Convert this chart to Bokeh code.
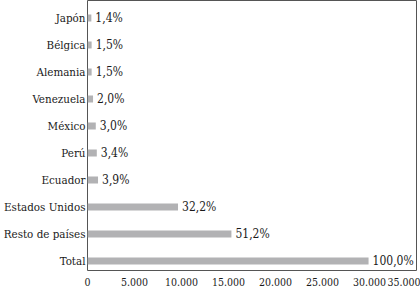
from bokeh.plotting import figure
from bokeh.models import Range1d, FixedTicker, ColumnDataSource
from bokeh.core.properties import value
from bokeh.embed import file_html
from bokeh.resources import INLINE

categories = ["Total", "Resto de países", "Estados Unidos", "Ecuador", "Perú",
              "México", "Venezuela", "Alemania", "Bélgica", "Japón"]
values = [29900, 15310, 9630, 1120, 990, 880, 590, 440, 440, 410]
pct_labels = ["100,0%", "51,2%", "32,2%", "3,9%", "3,4%",
              "3,0%", "2,0%", "1,5%", "1,5%", "1,4%"]
x_ticks = [0, 5000, 10000, 15000, 20000, 25000, 30000, 35000]

FONT = "DejaVu Serif Condensed"
TXT = "#1a1a1a"

pos = list(range(len(categories)))
src = ColumnDataSource(dict(y=pos, v=values, lab=pct_labels))

p = figure(width=420, height=292, output_backend="svg", toolbar_location=None,
           x_range=Range1d(0, 35000), y_range=Range1d(-0.353, len(categories) - 1 + 0.65),
           min_border_left=86, min_border_right=4, min_border_top=0, min_border_bottom=22)

p.hbar(y="y", right="v", left=0, height=0.26, source=src,
       fill_color="#b2b2b4", line_color=None)
p.text(x="v", y="y", text="lab", source=src, x_offset=4,
       text_font=value(FONT), text_font_size="12px", text_color=TXT,
       text_baseline="middle", text_align="left")

p.xgrid.visible = False
p.ygrid.visible = False
p.outline_line_color = "#555555"
p.outline_line_width = 1
p.background_fill_color = "white"
p.border_fill_color = "white"

xa = p.xaxis[0]
xa.ticker = FixedTicker(ticks=x_ticks)
xa.major_label_overrides = {t: f"{t:,}".replace(",", ".") for t in x_ticks}
xa.major_label_text_align = "right"
xa.major_label_text_font = FONT
xa.major_label_text_font_size = "10.5px"
xa.major_label_text_color = TXT
xa.major_label_standoff = 7
xa.major_tick_out = 0
xa.major_tick_in = 0
xa.axis_line_color = None
xa.major_tick_line_color = None
xa.minor_tick_line_color = None

ya = p.yaxis[0]
ya.ticker = FixedTicker(ticks=pos)
ya.major_label_overrides = {i: c for i, c in zip(pos, categories)}
ya.major_label_text_font = FONT
ya.major_label_text_font_size = "11.5px"
ya.major_label_text_color = TXT
ya.major_label_standoff = 2
ya.major_tick_out = 0
ya.major_tick_in = 0
ya.axis_line_color = None
ya.major_tick_line_color = None
ya.minor_tick_line_color = None

open("out.html", "w").write(file_html(p, INLINE))
